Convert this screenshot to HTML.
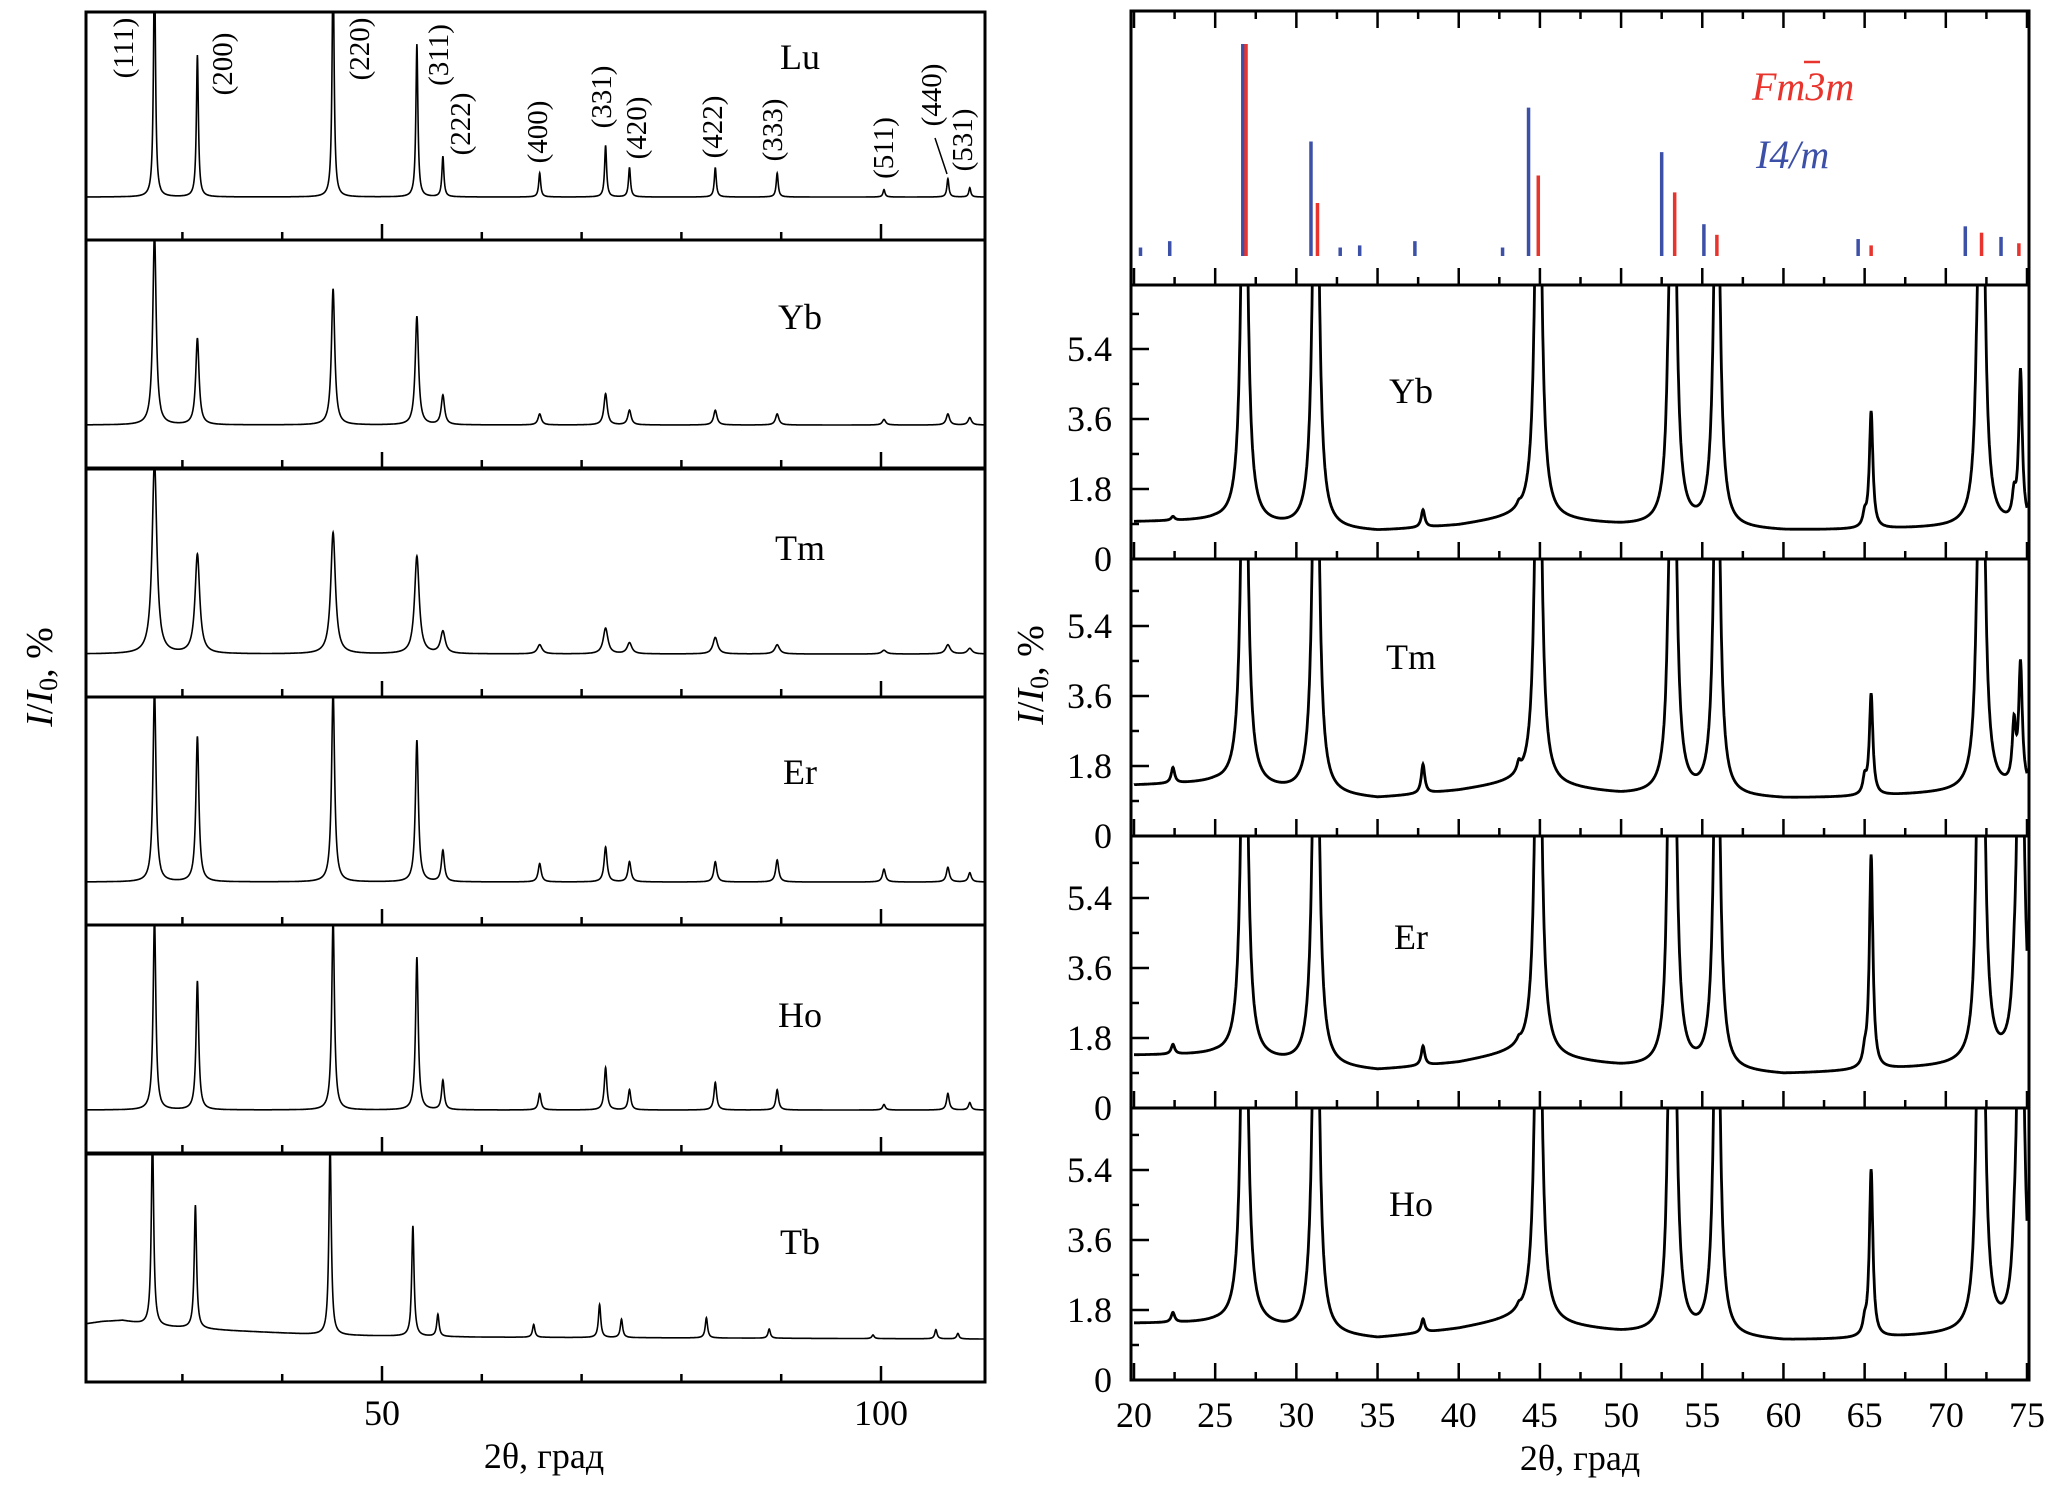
<!DOCTYPE html>
<html><head><meta charset="utf-8">
<style>
html,body{margin:0;padding:0;background:#fff;}
svg{display:block;font-family:"Liberation Serif",serif;}
</style></head>
<body>
<svg id="fig" width="2067" height="1488" viewBox="0 0 2067 1488" xmlns="http://www.w3.org/2000/svg">
<g id="left"></g>
<g id="right"></g>
</svg>
<script>
// ---------- LEFT CHART DATA ----------
const hklLabels = ["(111)","(200)","(220)","(311)","(222)","(400)","(331)","(420)","(422)","(333)","(511)","(440)","(531)"];
const peakPos = [27.2,31.5,45.1,53.5,56.1,65.8,72.4,74.8,83.4,89.6,100.3,106.7,108.9];
const peakPosTb = [27.0,31.3,44.8,53.1,55.6,65.2,71.8,74.0,82.5,88.8,99.2,105.5,107.7];
const sampleNames = ["Lu","Yb","Tm","Er","Ho","Tb"];
const intLu = [130,77,130,83,22,13,28,16,16,13,4,10,5];
const intYb = [105,47,74,59,16,6,17,8,8,6,3,6,4];
const intTm = [105,54,66,53,12,5,14,6,9,5,2,5,3];
const intEr = [105,79,105,77,17,10,19,11,11,12,7,8,5];
const intHo = [105,70,105,83,16,9,23,11,15,11,3,9,4];
const intTb = [105,67,105,60,12,7,18,10,11,5,2,5,3];
const peakWidths = [0.12,0.2,0.28,0.18,0.16,0.14];
const bgTbX = [20,22,24,27,35,45,60,110];
const bgTbY = [8,9.5,10,7,4.5,2,1,0];
const leftTicks = [30,40,50,60,70,80,90,100];
const leftTickLabels = [50,100];

// ---------- RIGHT CHART DATA ----------
const stickBlueX = [20.4,22.2,26.7,30.9,32.7,33.9,37.3,42.7,44.3,52.5,55.1,64.6,71.2,73.4];
const stickBlueH = [4,7,100,54,4,5,7,4,70,49,15,8,14,9];
const stickRedX = [26.9,31.3,44.9,53.3,55.9,65.4,72.2,74.5];
const stickRedH = [100,25,38,30,10,5,11,6];
const rightNames = ["Yb","Tm","Er","Ho"];
const rPeakPos = [22.4,26.8,31.2,37.8,43.7,44.9,52.9,53.2,55.9,65.0,65.4,71.9,72.2,74.2,74.6];
const rYb = [0.1,14,14,0.45,0.1,14,1,14,12,0.3,3.0,1,14,0.6,3.9];
const rTm = [0.4,14,14,0.75,0.25,14,1,14,12,0.4,2.6,1,14,1.5,3.1];
const rEr = [0.25,14,14,0.5,0.1,14,3,14,12,0.3,5.5,2,14,0.5,14];
const rHo = [0.25,14,14,0.35,0.1,14,2,14,12,0.3,4.3,2,14,0.5,14];
const bgX = [20,25,28,31,35,40,43.5,47,50,55,60,65,70,75];
const bgYb = [0.95,0.97,0.85,0.75,0.70,0.85,1.05,0.95,0.85,0.78,0.72,0.75,0.8,0.85];
const bgTm = [1.3,1.35,1.2,1.05,0.95,1.15,1.35,1.2,1.05,1.0,0.95,1.0,1.1,1.2];
const bgEr = [1.35,1.35,1.2,1.05,0.95,1.15,1.4,1.2,1.05,0.95,0.85,0.95,1.05,1.15];
const bgHo = [1.45,1.45,1.35,1.15,1.05,1.3,1.55,1.35,1.2,1.1,1.0,1.05,1.15,1.2];
const rYTicks = [0,1.8,3.6,5.4];
const rXTicks = [20,25,30,35,40,45,50,55,60,65,70,75];

const NS="http://www.w3.org/2000/svg";
function mk(parent,tag,attrs){const e=document.createElementNS(NS,tag);for(const k in attrs)e.setAttribute(k,attrs[k]);parent.appendChild(e);return e;}
function interp(xs,ys,x){if(x<=xs[0])return ys[0];for(let i=1;i<xs.length;i++){if(x<=xs[i]){const t=(x-xs[i-1])/(xs[i]-xs[i-1]);return ys[i-1]+t*(ys[i]-ys[i-1]);}}return ys[ys.length-1];}

// ---------- LEFT ----------
const L = document.getElementById('left');
const LX0=86, LX1=985;
const xL = d => 382 + (d-50)*9.98;
const LD0=(LX0-382)/9.98+50, LD1=(LX1-382)/9.98+50;
const lTops=[12,240,469,697,925,1154], LH=228;
const lInts=[intLu,intYb,intTm,intEr,intHo,intTb];
const labelYs=[57,317,548,772,1015,1242];
for(let p=0;p<6;p++){
  const top=lTops[p], bot=top+LH, base=bot-43, sc=184/100;
  const cid='clipL'+p;
  const cp=mk(L,'clipPath',{id:cid}); mk(cp,'rect',{x:LX0,y:top,width:LX1-LX0,height:LH});
  const pos = p===5?peakPosTb:peakPos, ints=lInts[p], w=peakWidths[p];
  let d='';
  for(let x=LD0;x<=LD1+0.001;x+=0.02){
    let v = p===5 ? interp(bgTbX,bgTbY,x) : 0;
    for(let i=0;i<pos.length;i++){const dx=x-pos[i];v+=ints[i]*w*w/(dx*dx+w*w);}
    d+=(d?'L':'M')+xL(x).toFixed(1)+' '+(base-v*sc).toFixed(1);
  }
  const path=mk(L,'path',{d:d,fill:'none',stroke:'#000','stroke-width':1.6,'clip-path':'url(#'+cid+')'});
  
  
  const fr=mk(L,'rect',{x:LX0,y:top,width:LX1-LX0,height:LH,fill:'none',stroke:'#000','stroke-width':3});
  
  
  for(const t of leftTicks){
    const len=(t===50||t===100)?16:8;
    const tk=mk(L,'line',{x1:xL(t),x2:xL(t),y1:bot,y2:bot-len,stroke:'#000','stroke-width':2.5});
    
    
  }
  const lab=mk(L,'text',{x:800,y:labelYs[p]+12,'font-size':36,'text-anchor':'middle'});
  lab.textContent=sampleNames[p];
  
  
}
// hkl labels
const hklX=[124,223,360,439,461,538,602,637,713,773,884,932,963];
const hklYc=[48,64,49,55,124,132,97,128,127,130,148,95,140];
for(let i=0;i<hklLabels.length;i++){
  const t=mk(L,'text',{x:0,y:0,'font-size':29,'text-anchor':'middle','dominant-baseline':'central',transform:'translate('+hklX[i]+','+hklYc[i]+') rotate(-90)'});
  t.textContent=hklLabels[i];
  
  
}
const ln=mk(L,'line',{x1:935,y1:138,x2:947,y2:174,stroke:'#000','stroke-width':1.5});


for(const v of leftTickLabels){
  const t=mk(L,'text',{x:xL(v),y:1425,'font-size':36,'text-anchor':'middle'});
  t.textContent=v;
  
  
}
{
  const t=mk(L,'text',{x:544,y:1468,'font-size':36,'text-anchor':'middle'});
  t.textContent='2θ, град';
  
  
}

// ---------- RIGHT ----------
const R=document.getElementById('right');
const RX0=1134, RX1=2027, RL=1131, RR=2029;
const xR = d => RX0 + (d-20)*(RX1-RX0)/55;
const sTop=11, sBot=285, sBase=256, sSc=212/100;
for(let i=0;i<stickBlueX.length;i++){
  const s=mk(R,'line',{x1:xR(stickBlueX[i]),x2:xR(stickBlueX[i]),y1:sBase,y2:sBase-stickBlueH[i]*sSc,stroke:'#3c50a8','stroke-width':3.5});
  
  
}
for(let i=0;i<stickRedX.length;i++){
  const s=mk(R,'line',{x1:xR(stickRedX[i]),x2:xR(stickRedX[i]),y1:sBase,y2:sBase-stickRedH[i]*sSc,stroke:'#e8342c','stroke-width':3.5});
  
  
}
{
  const f=mk(R,'rect',{x:RL,y:sTop,width:RR-RL,height:sBot-sTop,fill:'none',stroke:'#000','stroke-width':3});
  
  
  const t1=mk(R,'text',{x:1752,y:100,'font-size':40,'font-style':'italic',fill:'#e8342c'});
  t1.textContent='Fm3m';
  
  
  const ob=mk(R,'line',{x1:1804,x2:1820,y1:62,y2:62,stroke:'#e8342c','stroke-width':2.5});
  
  
  const t2=mk(R,'text',{x:1756,y:168,'font-size':40,'font-style':'italic',fill:'#3c50a8'});
  t2.textContent='I4/m';
  
  
}
function xTicks(top,bot,both){
  for(let i=0;i<=22;i++){
    const d=20+i*2.5; const len=(i%2===0)?17:8; const x=xR(d);
    const a=mk(R,'line',{x1:x,x2:x,y1:bot,y2:bot-len,stroke:'#000','stroke-width':2.5});
    
    
    if(both){
      const b=mk(R,'line',{x1:x,x2:x,y1:top,y2:top+len,stroke:'#000','stroke-width':2.5});
      
      
    }
  }
}
xTicks(sTop,sBot,true);
const rTops=[285,559,836,1108], rBots=[559,836,1108,1380];
const rInts=[rYb,rTm,rEr,rHo], rBgs=[bgYb,bgTm,bgEr,bgHo];
const rLabY=[391,657,937,1204];
const ySc=38.9;
for(let p=0;p<4;p++){
  const top=rTops[p], bot=rBots[p];
  const cid='clipR'+p;
  const cp=mk(R,'clipPath',{id:cid}); mk(cp,'rect',{x:RL,y:top,width:RR-RL,height:bot-top});
  let d='';
  for(let x=20;x<=75.001;x+=0.02){
    let v=interp(bgX,rBgs[p],x);
    for(let i=0;i<rPeakPos.length;i++){const dx=x-rPeakPos[i];const ww=rInts[p][i]>=10?0.2:0.13;v+=rInts[p][i]*ww*ww/(dx*dx+ww*ww);}
    d+=(d?'L':'M')+xR(x).toFixed(1)+' '+(bot-v*ySc).toFixed(1);
  }
  const path=mk(R,'path',{d:d,fill:'none',stroke:'#000','stroke-width':2.8,'clip-path':'url(#'+cid+')'});
  
  
  const f=mk(R,'rect',{x:RL,y:top,width:RR-RL,height:bot-top,fill:'none',stroke:'#000','stroke-width':3});
  
  
  xTicks(top,bot,false);
  for(let k=0;k<=7;k++){
    const v=k*0.9; const y=bot-v*ySc; if(y<top+4) continue;
    const len=(k%2===0)?18:8;
    const t=mk(R,'line',{x1:RL,x2:RL+len,y1:y,y2:y,stroke:'#000','stroke-width':2.5});
    
    
  }
  for(const v of rYTicks){
    const t=mk(R,'text',{x:1112,y:bot-v*ySc+12,'font-size':36,'text-anchor':'end'});
    t.textContent=v===0?'0':v.toFixed(1);
    
    
  }
  const lab=mk(R,'text',{x:1411,y:rLabY[p]+12,'font-size':36,'text-anchor':'middle'});
  lab.textContent=rightNames[p];
  
  
}
for(const v of rXTicks){
  const t=mk(R,'text',{x:xR(v),y:1427,'font-size':36,'text-anchor':'middle'});
  t.textContent=v;
  
  
}
{
  const t=mk(R,'text',{x:1580,y:1470,'font-size':36,'text-anchor':'middle'});
  t.textContent='2θ, град';
  
  
}
function yTitle(parent,x,y,name){
  const t=mk(parent,'text',{x:0,y:0,'font-size':38,'text-anchor':'middle','dominant-baseline':'central',transform:'translate('+x+','+y+') rotate(-90)'});
  
  
  t.innerHTML='<tspan font-style="italic">I</tspan>/<tspan font-style="italic">I</tspan><tspan font-size="26" dy="8">0</tspan><tspan dy="-8">, %</tspan>';
}
yTitle(L,40,677,'y-axis-title-left');
yTitle(R,1031,675,'y-axis-title-right');
</script>
</body></html>
